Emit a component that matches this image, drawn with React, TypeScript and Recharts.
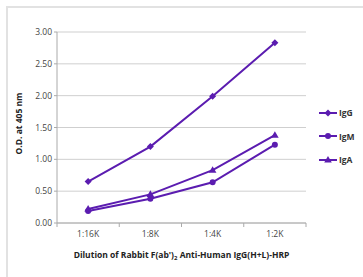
import React from 'react';
import { LineChart, Line, XAxis, YAxis, CartesianGrid } from 'recharts';

// values
const dilutions = ['1:16K', '1:8K', '1:4K', '1:2K'];
const igG = [0.65, 1.2, 1.99, 2.83];
const igM = [0.19, 0.38, 0.64, 1.23];
const igA = [0.22, 0.45, 0.83, 1.38];
const yTicks = [0, 0.5, 1, 1.5, 2, 2.5, 3];
const seriesNames = ['IgG', 'IgM', 'IgA'];

const PURPLE = '#5b1cb0';
const FONT = '"Open Sans", "Liberation Sans", Arial, sans-serif';

const W = 363;
const H = 277;
const M = { top: 32, right: 57, left: 0, bottom: 24 };
const Y_W = 57;
const HALF_BAND = (W - Y_W - M.right) / dilutions.length / 2;

const data = dilutions.map((d, i) => ({ pos: i + 0.5, name: d, IgG: igG[i], IgM: igM[i], IgA: igA[i] }));

type Shape = 'diamond' | 'circle' | 'triangle';
const shapeFor: Record<string, Shape> = { IgG: 'diamond', IgM: 'circle', IgA: 'triangle' };

const Marker = ({ cx, cy, shape }: { cx: number; cy: number; shape: Shape }) => {
  if (shape === 'diamond') {
    return <path d={`M${cx},${cy - 3.5} L${cx + 3.5},${cy} L${cx},${cy + 3.5} L${cx - 3.5},${cy} Z`} fill={PURPLE} />;
  }
  if (shape === 'circle') return <circle cx={cx} cy={cy} r={3} fill={PURPLE} />;
  return <path d={`M${cx},${cy - 4} L${cx + 3.8},${cy + 2.6} L${cx - 3.8},${cy + 2.6} Z`} fill={PURPLE} />;
};

const dotFor = (shape: Shape) => (p: any) =>
  p.cx == null ? <g key={p.key} /> : <Marker key={p.key} cx={p.cx} cy={p.cy} shape={shape} />;

const EdgeTick = (props: any) => {
  const { x, y, payload, index } = props;
  return (
    <g>
      <line x1={x} y1={y - 8} x2={x} y2={y - 4} stroke="#aaa" />
      {index < dilutions.length && (
        <text x={x + HALF_BAND} y={y + 6} textAnchor="middle" fontSize={8.5} fill="#444" fontFamily={FONT}>
          {dilutions[payload.value]}
        </text>
      )}
    </g>
  );
};

const LegendBox = () => (
  <div style={{ position: 'absolute', left: 318, top: 101 }}>
    {seriesNames.map((name) => (
      <div key={name} style={{ display: 'flex', alignItems: 'center', height: 23.5 }}>
        <svg width={20} height={8}>
          <line x1={1} y1={4} x2={19} y2={4} stroke={PURPLE} strokeWidth={2} />
          <Marker cx={10} cy={4} shape={shapeFor[name]} />
        </svg>
        <span style={{ fontFamily: FONT, fontSize: 8.5, fontWeight: 700, color: '#333', marginLeft: 1 }}>{name}</span>
      </div>
    ))}
  </div>
);

const YTitle = (props: any) => {
  const { viewBox } = props;
  const x = viewBox.x + 20;
  const y = viewBox.y + viewBox.height / 2 - 4;
  return (
    <text x={x} y={y} transform={`rotate(-90, ${x}, ${y})`} textAnchor="middle" dominantBaseline="middle"
      fontSize={8.5} fontWeight={700} fill="#222" fontFamily={FONT}>
      O.D. at 405 nm
    </text>
  );
};

const XTitle = (props: any) => {
  const { viewBox } = props;
  return (
    <text x={viewBox.x + viewBox.width / 2} y={viewBox.y + 33} textAnchor="middle" dominantBaseline="middle"
      fontSize={8.5} fontWeight={700} fill="#222" fontFamily={FONT}>
      Dilution of Rabbit F(ab')<tspan fontSize={6} dy={2}>2</tspan><tspan dy={-2}> Anti-Human IgG(H+L)-HRP</tspan>
    </text>
  );
};

export default function App() {
  return (
    <div style={{ position: 'absolute', left: 0, top: 0, width: W, height: H, background: '#fff', overflow: 'hidden' }}>
      <div style={{ position: 'absolute', left: 6, top: 6, width: W + 20, height: H + 20, border: '2px solid #e2e2e2' }} />
      <LineChart width={W} height={H} data={data} margin={M}>
        <CartesianGrid horizontal vertical={false} stroke="#cfcfcf" />
        <XAxis dataKey="pos" type="number" domain={[0, 4]} ticks={[0, 1, 2, 3, 4]} interval={0}
          axisLine={{ stroke: '#aaa' }} tickLine={false} tick={<EdgeTick />} height={30}
          label={<XTitle />} />
        <YAxis domain={[0, 3]} ticks={yTicks} width={Y_W} interval={0}
          tickFormatter={(v: number) => v.toFixed(2)} axisLine={{ stroke: '#aaa' }} tickLine={{ stroke: '#aaa' }}
          tickSize={3} tick={{ fontSize: 8.5, fill: '#444', fontFamily: FONT }} label={<YTitle />} />
        <Line dataKey="IgG" stroke={PURPLE} strokeWidth={2} dot={dotFor('diamond')} isAnimationActive={false} />
        <Line dataKey="IgM" stroke={PURPLE} strokeWidth={2} dot={dotFor('circle')} isAnimationActive={false} />
        <Line dataKey="IgA" stroke={PURPLE} strokeWidth={2} dot={dotFor('triangle')} isAnimationActive={false} />
      </LineChart>
      <LegendBox />
    </div>
  );
}
